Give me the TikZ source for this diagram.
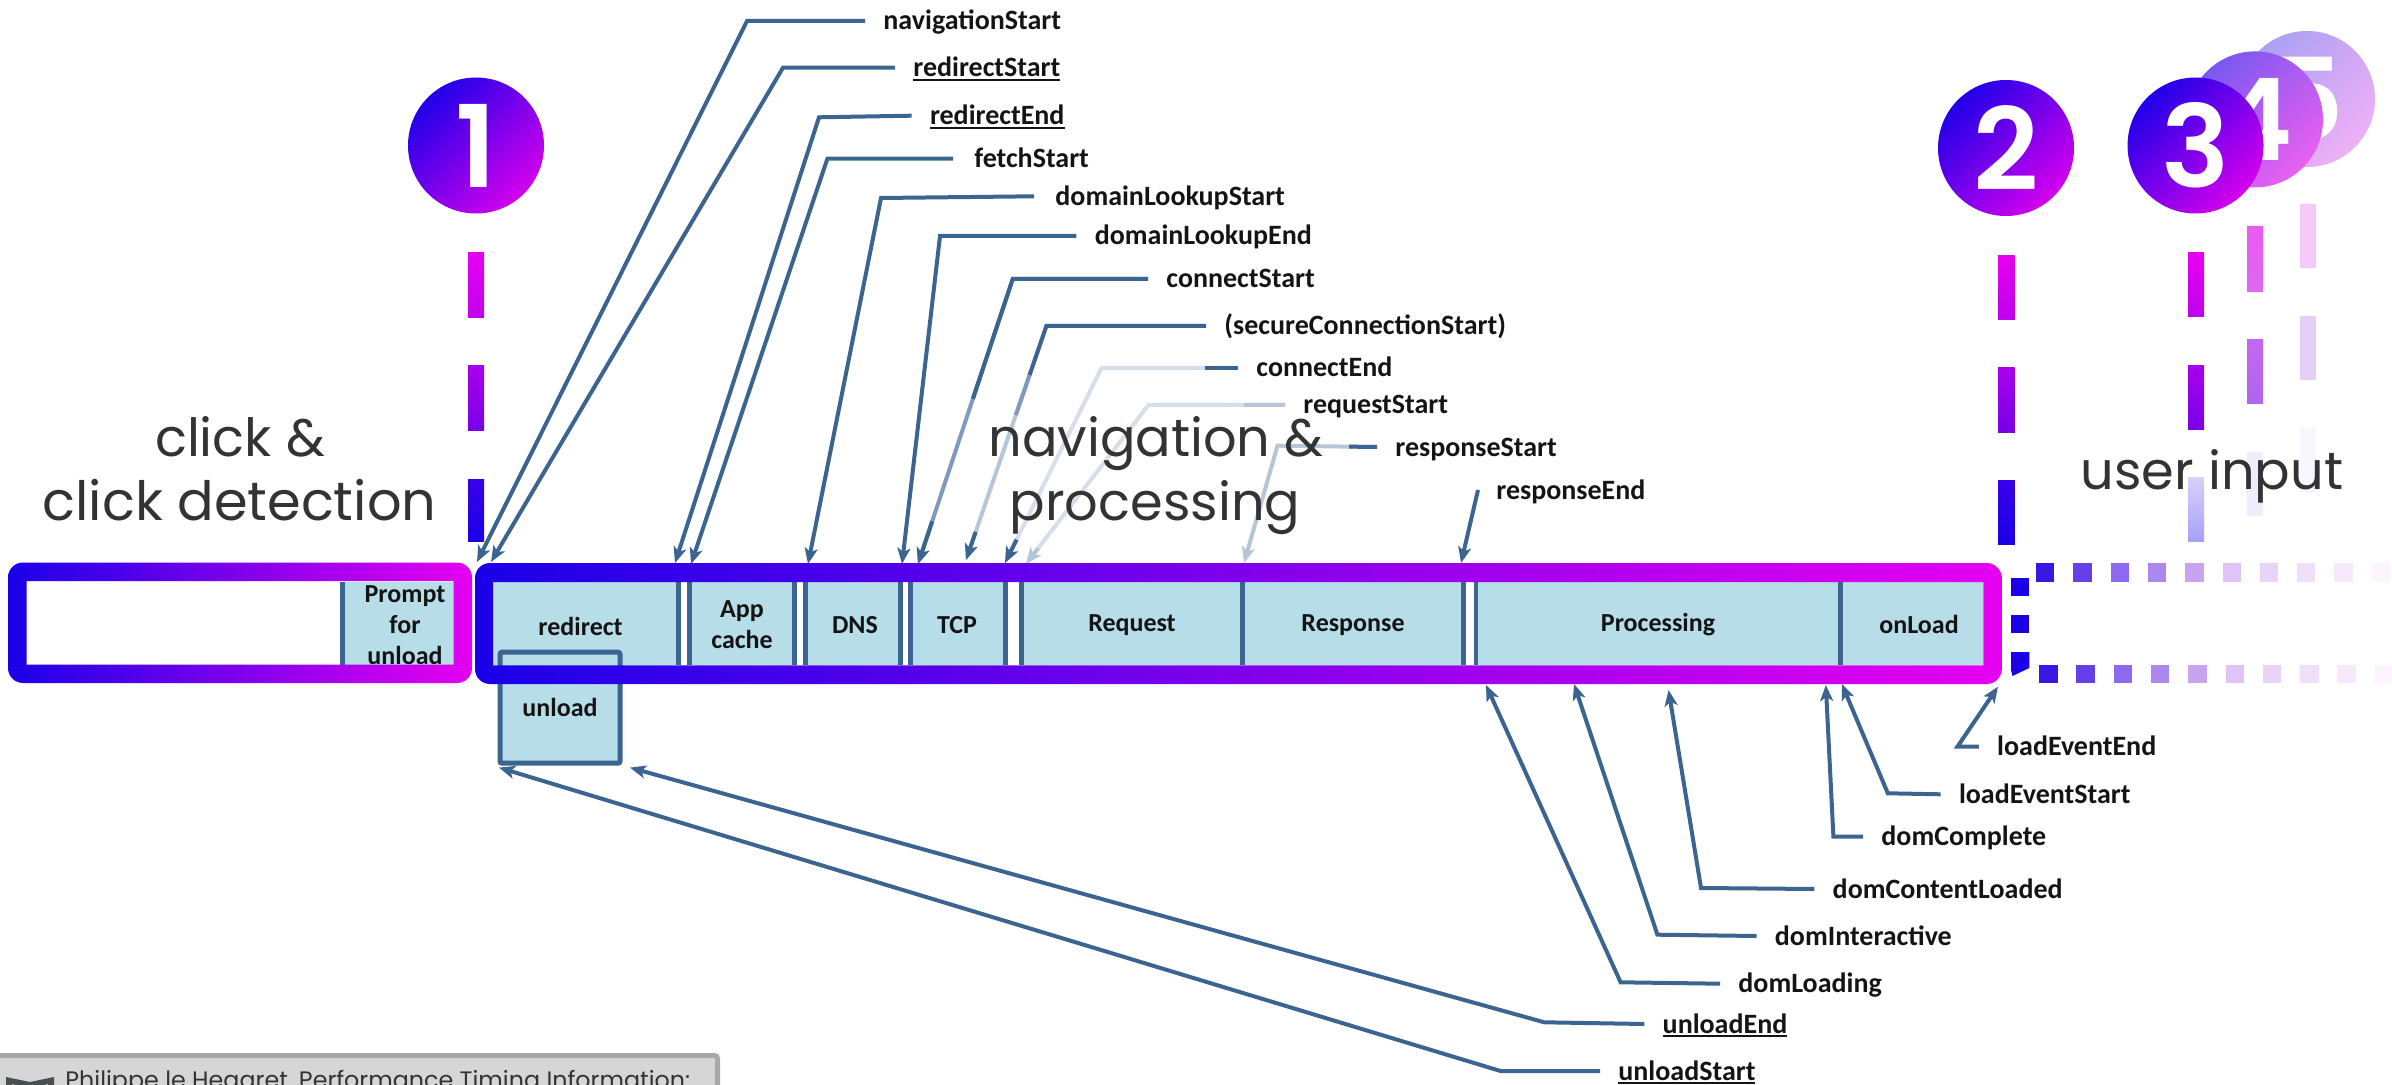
\documentclass[tikz,border=0pt]{standalone}
\usepackage{fontspec}
\setmainfont{Carlito}
\newfontfamily\bigfont{Poppins}
\newfontfamily\digitfont{Poppins}[UprightFont=* SemiBold]
\usetikzlibrary{arrows.meta,calc}
\definecolor{fblue}{HTML}{1A00E8}
\definecolor{fmid}{HTML}{A000EC}
\definecolor{fmag}{HTML}{E600F0}
\definecolor{discA}{HTML}{2000E8}
\definecolor{discB}{HTML}{D400EE}
\definecolor{cellblue}{HTML}{B7DDE8}
\definecolor{cellline}{HTML}{3C6490}
\definecolor{pale}{HTML}{D5DEE9}
\definecolor{halfpale}{HTML}{7F9ABA}
\definecolor{softpale}{HTML}{B4C6D8}
\definecolor{bigtext}{HTML}{333333}
\definecolor{capfill}{HTML}{D6D6D6}
\definecolor{capline}{HTML}{A8A8A8}
\definecolor{capicon}{HTML}{4A4F52}
\definecolor{dA}{HTML}{C000EC}
\definecolor{dB}{HTML}{A800EA}
\definecolor{dC}{HTML}{7800E8}
\definecolor{dD}{HTML}{3800E8}
\definecolor{dE}{HTML}{D8D0F8}
\definecolor{dF}{HTML}{A8A0F8}
\definecolor{dG}{HTML}{E85CF0}
\definecolor{dH}{HTML}{DE68F2}
\definecolor{dI}{HTML}{C468EE}
\definecolor{dJ}{HTML}{AE66EE}
\definecolor{dK}{HTML}{F0ECFC}
\definecolor{dL}{HTML}{F6C8F8}
\definecolor{dM}{HTML}{E6CFF6}
\definecolor{dN}{HTML}{F8F6FE}
\definecolor{cA}{HTML}{ACA0F4}
\definecolor{cB}{HTML}{EEB0F6}
\definecolor{cC}{HTML}{7A58F0}
\definecolor{cD}{HTML}{E860F2}
\tikzset{
  x=0.5pt,y=-0.5pt,
  frame/.style={left color=fblue,middle color=fmid,right color=fmag,even odd rule},
  conn/.style={draw=cellline,line width=2pt,line join=miter,-{Stealth[length=8pt,width=6.5pt,inset=2pt]}},
  connbare/.style={draw=cellline,line width=2pt},
  lbl/.style={anchor=west,inner xsep=9pt,inner ysep=0pt,text height=11pt,text depth=2pt,font=\fontsize{14}{15}\selectfont\bfseries,text=black!92},
  celllbl/.style={inner sep=0pt,align=center,font=\fontsize{13}{15.2}\selectfont\bfseries,text=black!92},
  bigl/.style={inner sep=0pt,anchor=base,font=\fontsize{26.3}{32}\bigfont,text=bigtext},
  numdisc/.style={circle,inner sep=0pt,minimum size=68pt,text=white,font=\fontsize{57}{60}\digitfont},
}
\newcommand\ulbold[1]{\setbox0=\hbox{#1}\rlap{\rule[-2pt]{\wd0}{0.9pt}}\box0}
\newcommand\timingline[6][conn]{%
  \node[lbl] (#2) at (#3) {#4};
  \coordinate (#2-elbow) at (#5);
  \coordinate (#2-tip) at (#6);
  \draw[#1] (#2.west) -- (#2-elbow) -- (#2-tip);}
\newcommand\darkcell[2]{\fill[cellline] (#1,582) rectangle (#2,665);}
\newcommand\bluecell[2]{\fill[cellblue] (#1,582) rectangle (#2,665);}
\begin{document}
\begin{tikzpicture}
\useasboundingbox (0,0) rectangle (2392,1085);
\clip (0,0) rectangle (2392,1085);

% faded numbered markers
\node[numdisc,top color=cA,bottom color=cB,shading angle=45] (n5) at (2307,99) {5};
\node[numdisc,top color=cC,bottom color=cD,shading angle=45] (n4) at (2255,119.4) {4};
\node[numdisc,top color=discA,bottom color=discB,shading angle=45] (n3) at (2195.5,145.5) {3};
\node[numdisc,top color=discA,bottom color=discB,shading angle=45] (n2) at (2006,148) {2};
\node[numdisc,top color=discA,bottom color=discB,shading angle=45] (n1) at (476,145.5) {1};

% vertical dashes
\foreach \xa/\xb/\ya/\yb in {468/484/253/318, 1998/2014.7/256/320, 2188/2204/253/317}{
  \fill[top color=fmag,bottom color=dA] (\xa,\ya) rectangle (\xb,\yb);
}
\foreach \xa/\xb/\ya/\yb in {468/484/366/430, 1998/2014.7/368/432.5, 2188/2204/365.5/429}{
  \fill[top color=dB,bottom color=dC] (\xa,\ya) rectangle (\xb,\yb);
}
\foreach \xa/\xb/\ya/\yb in {468/484/479/541.5, 1998/2014.7/480/544.5}{
  \fill[top color=dD,bottom color=fblue] (\xa,\ya) rectangle (\xb,\yb);
}
\fill[top color=dE,bottom color=dF] (2188,477.5) rectangle (2204,541);
\fill[top color=dG,bottom color=dH] (2247,227) rectangle (2263,291.5);
\fill[top color=dI,bottom color=dJ] (2247,340) rectangle (2263,403.5);
\fill[dK] (2247,452) rectangle (2263,516);
\fill[dL] (2300,204) rectangle (2316,268);
\fill[dM] (2300,316) rectangle (2316,380);
\fill[dN] (2300,428) rectangle (2316,492);

% dotted boundary to the right
\foreach \k/\c in {0/3A18E4,1/6540EA,2/8E68EE,3/AC88EE,4/C8A4F0,5/DFC4F8,6/E9D4F8,7/F1DFFA,8/F7E9FC,9/FCF4FE}{
  \definecolor{dotc}{HTML}{\c}
  \fill[dotc] ({2036+37.3*\k},563) rectangle ++(18.3,19);
  \fill[dotc] ({2039+37.3*\k},664.5) rectangle ++(18.5,18.5);
}
\fill[fblue] (2011,577.6) rectangle (2029.3,596);
\fill[fblue] (2011,614.8) rectangle (2029.3,633);
\fill[fblue] (2011,652) -- (2029.3,652) -- (2029.3,668) -- (2012.5,676) -- (2011,670) -- cycle;

% timing marks above the bar
\timingline{navigationStart}{865,21}{navigationStart}{747,21}{477,562}
\timingline{redirectStart}{895,67.7}{\ulbold{redirectStart}}{783,67.7}{491,562}
\timingline{redirectEnd}{911.6,115.7}{\ulbold{redirectEnd}}{819,117.3}{675,563}
\timingline{fetchStart}{953,158.7}{\kern1.5pt fetchStart}{827.4,158.7}{691,564}
\timingline{domainLookupStart}{1034,196.3}{\kern1.5pt domainLookupStart}{881,198}{808,564}
\timingline{domainLookupEnd}{1076.4,236}{domainLookupEnd}{940,236}{902,564}
\timingline[conn,draw=halfpale]{connectStart}{1148,279}{connectStart}{1012.7,279}{918,564}
\draw[connbare] (connectStart.west) -- (connectStart-elbow) -- ($(connectStart-elbow)!.42!(connectStart-tip)$);
\draw[conn] ($(connectStart-elbow)!.85!(connectStart-tip)$) -- (connectStart-tip);
\timingline[conn,draw=softpale]{secureConnectionStart}{1206,326}{(secureConnectionStart)}{1046.4,326}{966,560}
\draw[connbare] (secureConnectionStart.west) -- (secureConnectionStart-elbow) -- ($(secureConnectionStart-elbow)!.21!(secureConnectionStart-tip)$);
\draw[draw=halfpale,line width=2pt] ($(secureConnectionStart-elbow)!.21!(secureConnectionStart-tip)$) -- ($(secureConnectionStart-elbow)!.38!(secureConnectionStart-tip)$);
\draw[conn] ($(secureConnectionStart-elbow)!.88!(secureConnectionStart-tip)$) -- (secureConnectionStart-tip);
\timingline[conn,draw=pale]{connectEnd}{1238,368}{connectEnd}{1101.5,368}{1005,563}
\draw[connbare] (connectEnd.west) -- ($(connectEnd.west)!.24!(connectEnd-elbow)$);
\draw[conn] ($(connectEnd-elbow)!.88!(connectEnd-tip)$) -- (connectEnd-tip);
\timingline[conn,draw=pale]{requestStart}{1285,405}{requestStart}{1148.5,405}{1026,564}
\draw[draw=softpale,line width=2pt] (requestStart.west) -- ($(requestStart.west)!.3!(requestStart-elbow)$);
\draw[conn,draw=softpale] ($(requestStart-elbow)!.9!(requestStart-tip)$) -- (requestStart-tip);
\timingline[conn,draw=softpale]{responseStart}{1377,447}{responseStart}{1277.5,445.7}{1244,563}
\draw[connbare] (responseStart.west) -- ($(responseStart.west)!.28!(responseStart-elbow)$);
\node[lbl] (responseEnd) at (1478,490) {responseEnd};
\coordinate (responseEnd-tip) at (1461,563);
\draw[conn] (responseEnd.west) -- (responseEnd-tip);

% timing marks below the bar
\timingline{loadEventEnd}{1978.8,746.7}{loadEventEnd}{1957.4,746.7}{1998,686.7}
\timingline{loadEventStart}{1940.6,794.3}{loadEventStart}{1887.8,793.3}{1841.8,684}
\timingline{domComplete}{1863,836.7}{domComplete}{1833.4,836.7}{1825.8,685}
\timingline{domContentLoaded}{1814.3,889}{domContentLoaded}{1701,888}{1668.5,690}
\timingline{domInteractive}{1756.5,936}{domInteractive}{1657.4,934.7}{1574,684}
\timingline{domLoading}{1720,983.7}{domLoading}{1620.6,982.3}{1486,685}
\timingline{unloadEnd}{1644.3,1024}{\ulbold{unloadEnd}}{1544.3,1022.3}{630,767.6}
\timingline{unloadStart}{1600,1071}{\ulbold{unloadStart}}{1500.5,1071}{499,767.6}

% cells of the left bar
\darkcell{340}{345}\bluecell{345}{454}
\node[celllbl] (prompt) at (405,625.5) {Prompt\\[0.3pt]for\\[0.3pt]unload};
% cells of the main bar
\bluecell{493}{675.7}\darkcell{675.7}{680.7}
\darkcell{687}{692}\bluecell{692}{792}\darkcell{792}{797}
\darkcell{803.3}{808}\bluecell{808}{898}\darkcell{898}{902.7}
\darkcell{908}{912.7}\bluecell{912.7}{1002.7}\darkcell{1002.7}{1007.7}
\darkcell{1019}{1023.7}\bluecell{1023.7}{1240}\darkcell{1240}{1245}
\bluecell{1245}{1461}\darkcell{1461}{1466}
\darkcell{1473.5}{1478}\bluecell{1478}{1838}\darkcell{1838}{1843}
\bluecell{1843}{1983.3}
\node[celllbl] (redirect) at (580.6,626) {redirect};
\node[celllbl] (appcache) at (742,624.5) {App\\cache};
\node[celllbl] (dns) at (855,625) {DNS};
\node[celllbl] (tcp) at (957,625) {TCP};
\node[celllbl] (request) at (1132,625) {Request};
\node[celllbl] (response) at (1353,625) {Response};
\node[celllbl] (processing) at (1658,625) {Processing};
\node[celllbl] (onload) at (1919,624) {onLoad};
\node[draw=cellline,fill=cellblue,line width=2.5pt,rounded corners=1pt,minimum width=60pt,minimum height=55.5pt,celllbl] (unloadbox) at (560,707.7) {unload};

% gradient frames
\path[frame] [rounded corners=7.5pt] (8,562.5) rectangle (472,683) [sharp corners] (26.5,581) rectangle (453.6,664.5);
\path[frame] [rounded corners=7.5pt] (475,563) rectangle (2001.7,684) [sharp corners] (493,582) rectangle (1983.3,665.3);

% section headings
\node[bigl] (h1a) at (240,456.7) {click \&};
\node[bigl,font=\fontsize{27.1}{32}\bigfont] (h1b) at (239.5,520.7) {click detection};
\node[bigl] (h2a) at (1156,456) {navigation \&};
\node[bigl] (h2b) at (1155,520) {processing};
\node[bigl] (h3) at (2212,489) {user input};

% source caption, cut by the lower edge
\fill[fill=capfill,draw=capline,line width=2.5pt,rounded corners=1.5pt] (-10,1055.5) rectangle (717.5,1100);
\fill[capicon] (6,1077) -- (30,1082) -- (54,1077) -- (54,1085) -- (48,1085) -- (48,1084) -- (30,1089) -- (12,1084) -- (12,1085) -- (6,1085) -- cycle;
\node[inner sep=0pt,anchor=base west,font=\fontsize{11.9}{14}\bigfont,text=bigtext] (caption) at (65,1088) {Philippe le Hegaret, Performance Timing Information:};
\end{tikzpicture}
\end{document}
